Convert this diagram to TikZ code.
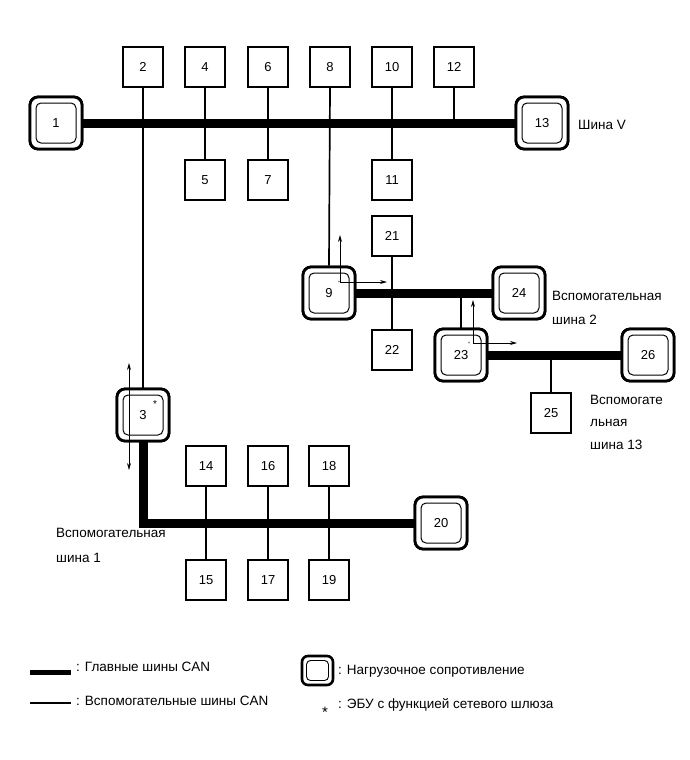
\documentclass[tikz,border=0pt]{standalone}
\usepackage{fontspec}
\setmainfont{Liberation Sans}
\usetikzlibrary{arrows.meta,calc}
\begin{document}
\begin{tikzpicture}[x=1pt,y=-1pt,
  font=\fontsize{13.5}{15}\selectfont,
  box/.style={draw,line width=1.3pt,minimum width=40pt,minimum height=40pt,inner sep=0pt,fill=white,font=\fontsize{13}{15}\selectfont},
  term/.style={draw,line width=2.8pt,rounded corners=8pt,minimum width=52pt,minimum height=52pt,inner sep=0pt,fill=white},
  terminner/.style={draw,line width=1pt,rounded corners=5pt,minimum width=40pt,minimum height=40pt,inner sep=0pt,font=\fontsize{13}{15}\selectfont},
  mainbus/.style={line width=9pt,line join=miter},
  subbus/.style={line width=1.7pt},
  gw/.style={line width=0.8pt,-{Stealth[length=7pt,width=4pt]}},
  lbl/.style={anchor=west,inner sep=0pt}]
\useasboundingbox (0,0) rectangle (689,760);

% terminating nodes
\foreach \n/\x/\y in {1/56/123,13/542/123,9/329/293,24/519/293,23/461/355,26/648/355,3/143/415,20/441/523}{
  \node[term] (T\n) at (\x,\y) {};
}
% plain boxes
\foreach \n/\x/\y in {2/143/67,4/205/67,6/268/67,8/330/67,10/392/67,12/454/67,
  5/205/180,7/268/180,11/392/180,21/392/236,22/392/350,25/551/413,
  14/206/466,16/268/466,18/329/466,15/206/580,17/268/580,19/329/580}{
  \node[box] (b\n) at (\x,\y) {\n};
}

% main buses
\draw[mainbus] (T1) -- (T13);
\draw[mainbus] (T9) -- (T24);
\draw[mainbus] (T23) -- (T26);
\draw[mainbus] (T3.south) -- (T3.south |- T20.west) -- (T20.west);

% sub buses
\draw[subbus] (b2) -- (T3);
\draw[subbus] (b4) -- (b5);
\draw[subbus] (b6) -- (b7);
\draw[subbus] (b8.south) -- (T9.north);
\draw[subbus] (b10) -- (b11);
\coordinate (c12) at (b12.south |- T13.center);
\draw[subbus] (b12.south) -- (c12);
\draw[subbus] (b21) -- (b22);
\coordinate (c23) at (T23.north |- T24.center);
\draw[subbus] (T23.north) -- (c23);
\coordinate (c25) at (b25.north |- T26.center);
\draw[subbus] (b25.north) -- (c25);
\draw[subbus] (b14) -- (b15);
\draw[subbus] (b16) -- (b17);
\draw[subbus] (b18) -- (b19);

% redraw nodes on top of buses
\foreach \n/\x/\y in {1/56/123,13/542/123,9/329/293,24/519/293,23/461/355,26/648/355,3/143/415,20/441/523}{
  \node[term] at (\x,\y) {};
  \node[terminner] (I\n) at (\x,\y) {\n};
}
\foreach \n/\x/\y in {2/143/67,4/205/67,6/268/67,8/330/67,10/392/67,12/454/67,
  5/205/180,7/268/180,11/392/180,21/392/236,22/392/350,25/551/413,
  14/206/466,16/268/466,18/329/466,15/206/580,17/268/580,19/329/580}{
  \node[box] at (\x,\y) {\n};
}

% gateway marks and arrows
\node[inner sep=0pt,font=\fontsize{10}{10}\selectfont] (s3) at (155,404) {*};
\coordinate (a3t) at (129,363);
\coordinate (a3b) at (129,470);
\draw[line width=0.8pt,{Stealth[length=7pt,width=4pt]}-{Stealth[length=7pt,width=4pt]}] (a3t) -- (a3b);

\coordinate (o9) at (340,282);
\coordinate (u9) at (340,235);
\coordinate (r9) at (387,282);
\node[inner sep=0pt,font=\fontsize{5}{5}\selectfont] (s9) at (339,283) {*};
\draw[gw] (o9) -- (u9);
\draw[gw] (o9) -- (r9);

\coordinate (o23) at (473,343);
\coordinate (u23) at (473,300);
\coordinate (r23) at (517,343);
\node[inner sep=0pt,font=\fontsize{5}{5}\selectfont] (s23) at (469,344) {*};
\draw[gw] (o23) -- (u23);
\draw[gw] (o23) -- (r23);

% bus labels
\node[lbl] (tV) at (578,125) {Шина V};
\node[lbl] (t2a) at (552,296) {Вспомогательная};
\node[lbl] (t2b) at (552,320) {шина 2};
\node[lbl] (t13a) at (590,400) {Вспомогате};
\node[lbl] (t13b) at (590,423) {льная};
\node[lbl] (t13c) at (590,445) {шина 13};
\node[lbl] (t1a) at (56,533) {Вспомогательная};
\node[lbl] (t1b) at (56,558) {шина 1};

% legend
\coordinate (lm1) at (30,672);
\coordinate (lm2) at (71,672);
\draw[line width=5pt] (lm1) -- (lm2);
\node[lbl] (lt1) at (76,667) {: Главные шины CAN};
\coordinate (ls1) at (30,703);
\coordinate (ls2) at (71,703);
\draw[line width=1.6pt] (ls1) -- (ls2);
\node[lbl] (lt2) at (76,701) {: Вспомогательные шины CAN};
\node[draw,line width=2.6pt,rounded corners=6pt,minimum width=31pt,minimum height=29pt,inner sep=0pt] (lT) at (317.5,670.5) {};
\node[draw,line width=0.9pt,rounded corners=4pt,minimum width=22pt,minimum height=20pt,inner sep=0pt] (lTi) at (317.5,670.5) {};
\node[lbl] (lt3) at (338,671) {: Нагрузочное сопротивление};
\node[inner sep=0pt,font=\fontsize{15}{15}\selectfont] (lstar) at (325,712) {*};
\node[lbl] (lt4) at (338,705) {: ЭБУ с функцией сетевого шлюза};
\end{tikzpicture}
\end{document}
